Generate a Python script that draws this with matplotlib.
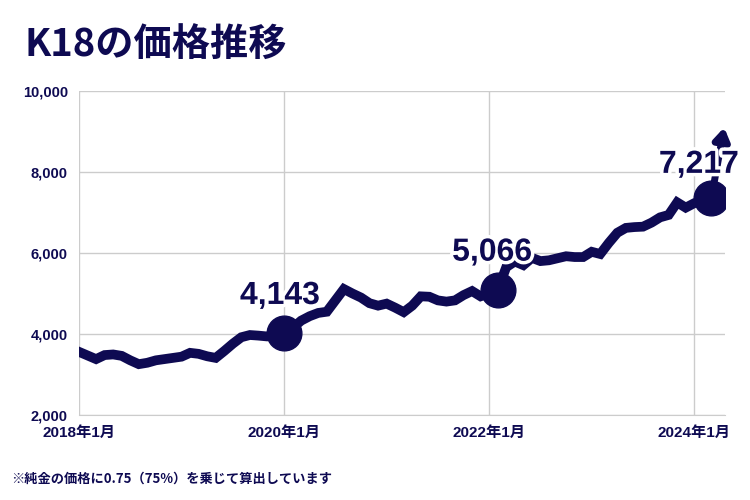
import numpy as np
import matplotlib.pyplot as plt
import matplotlib.patheffects as pe

# K18 monthly price (yen/g), 2018-01 onwards
prices = [3560, 3470, 3380, 3480, 3495, 3460, 3350, 3255, 3290, 3350,
          3380, 3410, 3440, 3535, 3510, 3450, 3410, 3580, 3760, 3920,
          3975, 3960, 3940, 3980, 4020, 4150, 4330, 4440, 4520, 4550,
          4830, 5110, 5000, 4900, 4760, 4700, 4750, 4650, 4540, 4700,
          4930, 4920, 4830, 4800, 4830, 4960, 5060, 4930, 5000, 5090,
          5650, 5790, 5700, 5880, 5800, 5820, 5870, 5920, 5900, 5900,
          6030, 5975, 6250, 6500, 6620, 6640, 6650, 6750, 6880, 6940,
          7250, 7120, 7230, 7300, 7360, 9100]
months = np.arange(len(prices), dtype=float)
months[-1] = 75.5

# highlighted points: month index and label
hl_idx = [24, 49, 74]
hl_text = ['4,143', '5,066', '7,217']
hl_dx = [-3, -4, -9]
hl_dy = [16, 16, 13]

tick_pos = [0, 24, 48, 72]
tick_lab = ['2018年1月', '2020年1月', '2022年1月', '2024年1月']
yticks = [2000, 4000, 6000, 8000, 10000]

navy = '#0e0a52'
fam = ['Liberation Sans', 'Noto Sans CJK JP', 'DejaVu Sans']
plt.rcParams['font.family'] = fam

fig = plt.figure(figsize=(7.5, 5), dpi=100)
ax = fig.add_axes([0.1053, 0.17, 0.8614, 0.648])

ax.plot(months[:-1], prices[:-1], color=navy, lw=7, solid_joinstyle='miter', zorder=3)
ax.annotate('', xy=(months[-1], prices[-1]), xytext=(months[-2], prices[-2]),
            arrowprops=dict(arrowstyle='-|>,head_width=0.45,head_length=0.7',
                            color=navy, lw=5, shrinkA=0, shrinkB=0),
            zorder=3, annotation_clip=False)
ax.plot(months[hl_idx], np.array(prices)[hl_idx], 'o', color=navy, ms=25, zorder=4)

for i, t, dx, dy in zip(hl_idx, hl_text, hl_dx, hl_dy):
    ax.annotate(t, (months[i], prices[i]), xytext=(dx, dy), textcoords='offset points',
                ha='center', va='bottom', fontsize=23, fontweight='bold', color=navy,
                family=fam, zorder=5,
                path_effects=[pe.withStroke(linewidth=5, foreground='white')])

ax.set_xlim(0, 75.6)
ax.set_ylim(2000, 10000)
ax.set_yticks(yticks)
ax.set_yticklabels([f'{v:,}' for v in yticks])
ax.set_xticks(tick_pos)
ax.set_xticklabels(tick_lab)
for lab in ax.get_yticklabels():
    lab.set_fontsize(10.5)
for lab in ax.get_xticklabels():
    lab.set_fontsize(11)
for lab in ax.get_xticklabels() + ax.get_yticklabels():
    lab.set_fontweight('bold')
    lab.set_color(navy)
ax.tick_params(length=0, pad=8)

ax.grid(True, color='#cccccc', lw=1)
for s in ['top', 'right', 'left']:
    ax.spines[s].set_visible(False)
ax.spines['bottom'].set_color('#cccccc')
ax.set_axisbelow(True)

fig.text(0.033, 0.91, 'K18の価格推移', fontsize=27.5, fontweight='bold', color=navy,
         family=['Noto Sans CJK JP', 'DejaVu Sans'], va='center')
fig.text(0.015, 0.043, '※純金の価格に0.75（75%）を乗じて算出しています', fontsize=9.5,
         fontweight='bold', color=navy, family=['Noto Sans CJK JP', 'DejaVu Sans'], va='center')

fig.savefig('out.png', dpi=100)
